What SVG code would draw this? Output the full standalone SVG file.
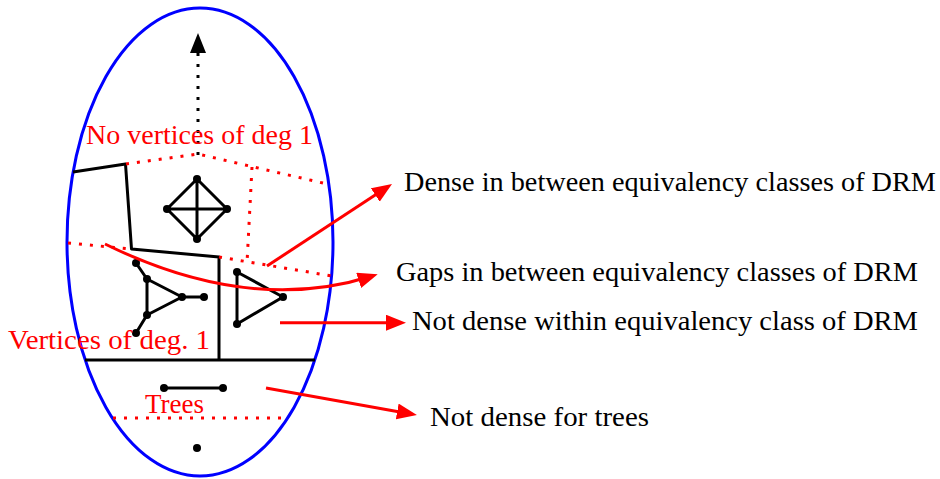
<svg xmlns="http://www.w3.org/2000/svg" width="940" height="479" viewBox="0 0 940 479">
<style>
.lbl{font-family:"Liberation Serif","Times New Roman",serif;font-size:28px;}
.red{fill:#ff0000;}
.blk{fill:#000000;}
.edge{stroke:#000;stroke-width:3;fill:none;stroke-linejoin:round;}
.rdot{stroke:#ff0000;stroke-width:3;fill:none;stroke-dasharray:3 8;}
.rline{stroke:#ff0000;stroke-width:3;fill:none;}
.v{fill:#000;}
</style>
<defs>
<marker id="ar" markerUnits="userSpaceOnUse" markerWidth="22" markerHeight="18" refX="14" refY="8" orient="auto">
<path d="M0,0 L20,8 L0,16 z" fill="#ff0000"/>
</marker>
<marker id="ab" markerUnits="userSpaceOnUse" markerWidth="22" markerHeight="18" refX="14" refY="8" orient="auto">
<path d="M0,0 L20,8 L0,16 z" fill="#000"/>
</marker>
</defs>
<rect width="940" height="479" fill="#fff"/>
<g id="space">
<ellipse cx="200" cy="242" rx="133" ry="234" fill="none" stroke="#0000ff" stroke-width="3"/>
</g>
<g id="regions">
<path class="edge" d="M73,172 L125.5,164 L131.5,249 L219,257 L219,360"/>
<path class="edge" d="M85,360 L315,360"/>
<path class="rdot" d="M126,164 L198,154 L327,184"/>
<path class="rdot" d="M252,167 L247,263"/>
<path class="rdot" d="M68,243 L131,249"/>
<path class="rdot" d="M219,257 L332,276"/>
<path class="rdot" d="M113,418 L288,418"/>
</g>
<g id="k4">
<path class="edge" d="M197,179 L167,209 L197,239 L227,209 Z M167,209 L227,209 M197,179 L197,239"/>
<circle class="v" cx="197" cy="179" r="4"/>
<circle class="v" cx="167" cy="209" r="4"/>
<circle class="v" cx="227" cy="209" r="4"/>
<circle class="v" cx="197" cy="239" r="4"/>
</g>
<g id="pendant-triangle">
<path class="edge" d="M147,279 L147,315 L182,297 Z M136,263 L147,279 M136,333 L147,315 M182,297 L204,297"/>
<circle class="v" cx="147" cy="279" r="4"/>
<circle class="v" cx="147" cy="315" r="4"/>
<circle class="v" cx="182" cy="297" r="4"/>
<circle class="v" cx="136" cy="263" r="4"/>
<circle class="v" cx="136" cy="333" r="4"/>
<circle class="v" cx="204" cy="297" r="4"/>
</g>
<g id="triangle">
<path class="edge" d="M237,272 L237,324 L283,297 Z"/>
<circle class="v" cx="237" cy="272" r="4"/>
<circle class="v" cx="237" cy="324" r="4"/>
<circle class="v" cx="283" cy="297" r="4"/>
</g>
<g id="edge-graph">
<path class="edge" d="M164,388 L223,388"/>
<circle class="v" cx="164" cy="388" r="4"/>
<circle class="v" cx="223" cy="388" r="4"/>
</g>
<g id="single-vertex">
<circle class="v" cx="197" cy="448" r="4"/>
</g>
<g id="connectors">
<path d="M198,155 L198,39" stroke="#000" stroke-width="3" fill="none" stroke-dasharray="3 8" marker-end="url(#ab)"/>
<path class="rline" d="M267,266 L387,187.3" marker-end="url(#ar)"/>
<path class="rline" d="M105,244 Q250,315 372,276" marker-end="url(#ar)"/>
<path class="rline" d="M280,322.7 L400,322.7" marker-end="url(#ar)"/>
<path class="rline" d="M266,388 L411,413.9" marker-end="url(#ar)"/>
</g>
<g id="labels">
<text class="lbl red" x="199.5" y="144" text-anchor="middle" textLength="227" lengthAdjust="spacingAndGlyphs">No vertices of deg 1</text>
<text class="lbl red" x="8" y="349" textLength="202" lengthAdjust="spacingAndGlyphs">Vertices of deg. 1</text>
<text class="lbl red" x="145" y="413" textLength="59" lengthAdjust="spacingAndGlyphs">Trees</text>
<text class="lbl blk" x="404" y="191" textLength="532" lengthAdjust="spacingAndGlyphs">Dense in between equivalency classes of DRM</text>
<text class="lbl blk" x="396" y="281" textLength="522" lengthAdjust="spacingAndGlyphs">Gaps in between equivalency classes of DRM</text>
<text class="lbl blk" x="412" y="330" textLength="506" lengthAdjust="spacingAndGlyphs">Not dense within equivalency class of DRM</text>
<text class="lbl blk" x="430" y="426" textLength="219" lengthAdjust="spacingAndGlyphs">Not dense for trees</text>
</g>
</svg>
